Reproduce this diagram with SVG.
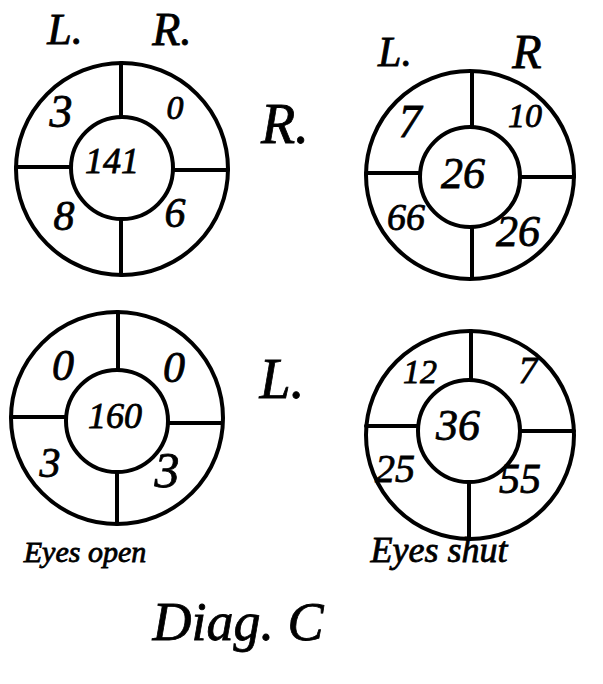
<svg xmlns="http://www.w3.org/2000/svg" width="603" height="684" viewBox="0 0 603 684">
<style>
.ring{fill:none;stroke:#000;stroke-width:4}
.sp{stroke:#000;stroke-width:4;stroke-linecap:round}
text{font-family:"Liberation Serif","DejaVu Serif",serif;font-style:italic;fill:#000;stroke:#000;stroke-width:0.8;text-anchor:middle}
</style>
<rect width="603" height="684" fill="#fff"/>
<g id="chart-top-left">
<circle class="ring" cx="122" cy="169" r="106"/>
<circle class="ring" cx="122" cy="168" r="51"/>
<line class="sp" x1="121" y1="63" x2="121" y2="117"/>
<line class="sp" x1="121" y1="219" x2="121" y2="275"/>
<line class="sp" x1="16" y1="167" x2="71" y2="167"/>
<line class="sp" x1="173" y1="170" x2="228" y2="170"/>
<text x="61" y="127" font-size="46">3</text>
<text x="175" y="119" font-size="34">0</text>
<text x="112" y="173" font-size="36">141</text>
<text x="64" y="230" font-size="42">8</text>
<text x="175" y="227" font-size="42">6</text>
</g>
<g id="chart-top-right">
<circle class="ring" cx="470" cy="175" r="104"/>
<circle class="ring" cx="470" cy="177" r="50"/>
<line class="sp" x1="472" y1="72" x2="472" y2="127"/>
<line class="sp" x1="472" y1="227" x2="472" y2="278"/>
<line class="sp" x1="366" y1="173" x2="420" y2="173"/>
<line class="sp" x1="520" y1="177" x2="574" y2="177"/>
<text x="410" y="137" font-size="46">7</text>
<text x="525" y="127" font-size="34">10</text>
<text x="463" y="188" font-size="44">26</text>
<text x="406" y="230" font-size="38">66</text>
<text x="518" y="246" font-size="44">26</text>
</g>
<g id="chart-bottom-left">
<circle class="ring" cx="117" cy="418" r="106"/>
<circle class="ring" cx="117" cy="421" r="51"/>
<line class="sp" x1="118" y1="312" x2="118" y2="370"/>
<line class="sp" x1="117" y1="472" x2="117" y2="524"/>
<line class="sp" x1="11" y1="417" x2="66" y2="417"/>
<line class="sp" x1="168" y1="423" x2="222" y2="423"/>
<text x="63" y="380" font-size="44">0</text>
<text x="174" y="382" font-size="44">0</text>
<text x="115" y="428" font-size="36">160</text>
<text x="50" y="477" font-size="42">3</text>
<text x="167" y="487" font-size="50">3</text>
</g>
<g id="chart-bottom-right">
<circle class="ring" cx="470" cy="435" r="104"/>
<circle class="ring" cx="469" cy="431" r="51"/>
<line class="sp" x1="471" y1="331" x2="471" y2="380"/>
<line class="sp" x1="469" y1="482" x2="469" y2="539"/>
<line class="sp" x1="366" y1="426" x2="418" y2="426"/>
<line class="sp" x1="520" y1="431" x2="574" y2="431"/>
<text x="420" y="383" font-size="34">12</text>
<text x="528" y="383" font-size="38">7</text>
<text x="458" y="440" font-size="44">36</text>
<text x="395" y="482" font-size="40">25</text>
<text x="520" y="493" font-size="42">55</text>
</g>
<g id="labels">
<text x="65" y="44" font-size="44">L.</text>
<text x="172" y="45" font-size="46">R.</text>
<text x="395" y="66" font-size="42">L.</text>
<text x="527" y="68" font-size="48">R</text>
<text x="285" y="143" font-size="56">R.</text>
<text x="282" y="398" font-size="56">L.</text>
<text x="85" y="562" font-size="30">Eyes open</text>
<text x="439" y="562" font-size="36">Eyes shut</text>
<text x="238" y="640" font-size="54">Diag. C</text>
</g>
</svg>
